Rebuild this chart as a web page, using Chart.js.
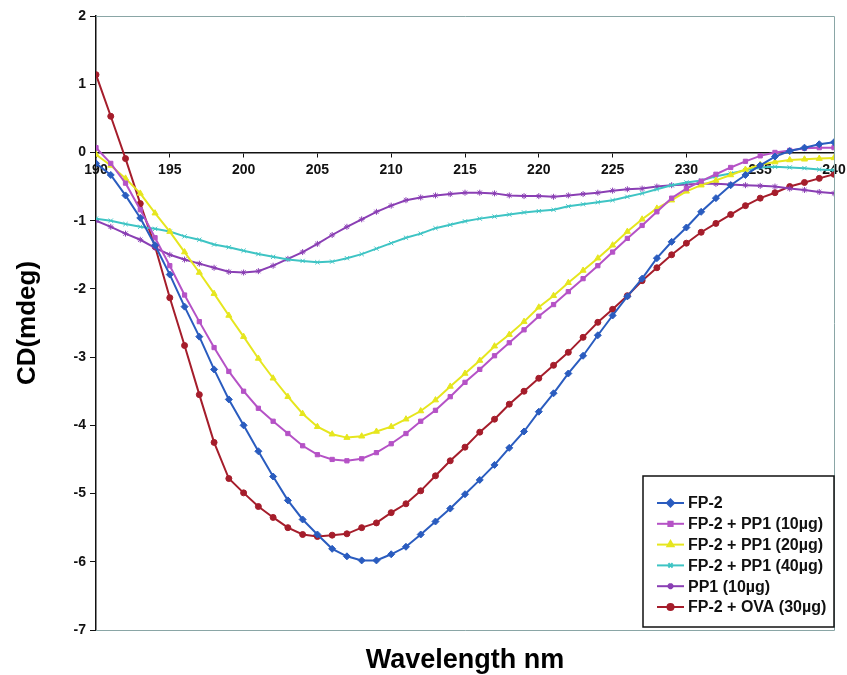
<!DOCTYPE html>
<html>
<head>
<meta charset="utf-8">
<script src="https://cdn.jsdelivr.net/npm/chart.js@4.4.1/dist/chart.umd.min.js"></script>
<style>
  html, body { margin: 0; padding: 0; background: #fff; }
  #wrap { width: 847px; height: 675px; }
</style>
</head>
<body>
<div id="wrap"><canvas id="cd-chart"></canvas></div>
<script>
// wavelengths, 190..240 nm every 1 nm
const wavelengths = [190,191,192,193,194,195,196,197,198,199,200,201,202,203,204,205,206,207,208,209,210,
  211,212,213,214,215,216,217,218,219,220,221,222,223,224,225,226,227,228,229,230,
  231,232,233,234,235,236,237,238,239,240];

const fp2 = [-0.16,-0.33,-0.63,-0.96,-1.36,-1.79,-2.26,-2.7,-3.18,-3.62,-4.0,-4.38,-4.75,-5.1,-5.38,-5.6,-5.81,-5.92,-5.98,-5.98,-5.89,
  -5.78,-5.6,-5.41,-5.22,-5.01,-4.8,-4.58,-4.33,-4.09,-3.8,-3.53,-3.24,-2.98,-2.68,-2.39,-2.11,-1.85,-1.55,-1.31,-1.1,
  -0.87,-0.67,-0.48,-0.33,-0.19,-0.06,0.02,0.07,0.12,0.15];

const fp2pp10 = [0.07,-0.16,-0.45,-0.84,-1.25,-1.66,-2.09,-2.48,-2.86,-3.21,-3.5,-3.75,-3.94,-4.12,-4.3,-4.43,-4.5,-4.52,-4.49,-4.4,-4.27,
  -4.12,-3.94,-3.78,-3.58,-3.37,-3.18,-2.98,-2.79,-2.6,-2.4,-2.23,-2.04,-1.85,-1.66,-1.46,-1.26,-1.07,-0.87,-0.67,-0.53,
  -0.42,-0.32,-0.22,-0.13,-0.05,0.0,0.03,0.06,0.07,0.07];

const fp2pp20 = [-0.03,-0.19,-0.38,-0.6,-0.89,-1.16,-1.46,-1.76,-2.07,-2.39,-2.7,-3.02,-3.31,-3.58,-3.83,-4.02,-4.13,-4.18,-4.16,-4.09,-4.02,
  -3.91,-3.79,-3.63,-3.43,-3.24,-3.05,-2.84,-2.67,-2.48,-2.27,-2.1,-1.91,-1.73,-1.55,-1.36,-1.16,-0.98,-0.82,-0.7,-0.57,
  -0.48,-0.41,-0.33,-0.25,-0.18,-0.14,-0.11,-0.1,-0.09,-0.08];

const fp2pp40 = [-0.97,-1.0,-1.05,-1.09,-1.12,-1.16,-1.23,-1.28,-1.35,-1.39,-1.44,-1.49,-1.53,-1.57,-1.59,-1.61,-1.6,-1.55,-1.49,-1.41,-1.33,
  -1.25,-1.19,-1.11,-1.06,-1.01,-0.97,-0.94,-0.91,-0.88,-0.86,-0.84,-0.79,-0.76,-0.73,-0.7,-0.65,-0.6,-0.54,-0.48,-0.44,
  -0.41,-0.35,-0.31,-0.26,-0.22,-0.21,-0.22,-0.23,-0.25,-0.26];

const pp1 = [-1.0,-1.09,-1.19,-1.28,-1.4,-1.5,-1.57,-1.63,-1.69,-1.75,-1.76,-1.74,-1.66,-1.56,-1.46,-1.34,-1.21,-1.09,-0.98,-0.87,-0.78,
  -0.7,-0.66,-0.63,-0.61,-0.59,-0.59,-0.6,-0.63,-0.64,-0.64,-0.65,-0.63,-0.61,-0.59,-0.56,-0.54,-0.53,-0.5,-0.48,-0.47,
  -0.46,-0.46,-0.47,-0.48,-0.49,-0.5,-0.53,-0.55,-0.58,-0.6];

const fp2ova = [1.14,0.53,-0.09,-0.75,-1.38,-2.13,-2.83,-3.55,-4.25,-4.78,-4.99,-5.19,-5.35,-5.5,-5.6,-5.63,-5.61,-5.59,-5.5,-5.43,-5.28,
  -5.15,-4.96,-4.74,-4.52,-4.32,-4.1,-3.91,-3.69,-3.5,-3.31,-3.12,-2.93,-2.71,-2.49,-2.3,-2.1,-1.88,-1.69,-1.5,-1.33,
  -1.17,-1.04,-0.91,-0.78,-0.67,-0.59,-0.5,-0.44,-0.38,-0.32];

const seriesNames = ["FP-2", "FP-2 + PP1 (10\u00b5g)", "FP-2 + PP1 (20\u00b5g)", "FP-2 + PP1 (40\u00b5g)", "PP1 (10\u00b5g)", "FP-2 + OVA (30\u00b5g)"];
const seriesValues = [fp2, fp2pp10, fp2pp20, fp2pp40, pp1, fp2ova];
const seriesColors = ['#2a5cbf', '#b552c6', '#e6e61e', '#3ec4c4', '#8a3fb4', '#a51d2b'];
const seriesMarkers = ['rectRot', 'rect', 'triangle', 'crossRot', 'star', 'circle'];
const markerSizes = [3.5, 3, 3.5, 3, 3, 3];

const yTicks = [2, 1, 0, -1, -2, -3, -4, -5, -6, -7];

const datasets = seriesValues.map((vals, i) => ({
    label: seriesNames[i],
    data: vals.map((v, j) => ({ x: wavelengths[j], y: v })),
    borderColor: seriesColors[i],
    backgroundColor: seriesColors[i],
    pointStyle: seriesMarkers[i],
    pointRadius: markerSizes[i],
    pointBorderWidth: 1,
    borderWidth: 2,
    tension: 0,
    fill: false
}));

// box around plot, in-plot legend and x-axis title
const framePlugin = {
    id: 'frame',
    beforeDatasetsDraw(chart) {
        const { ctx, chartArea: a } = chart;
        ctx.save();
        ctx.strokeStyle = '#8aa6a6';
        ctx.lineWidth = 1;
        ctx.beginPath();
        ctx.moveTo(a.left, a.top + 0.5);
        ctx.lineTo(a.right + 0.5, a.top + 0.5);
        ctx.lineTo(a.right + 0.5, a.bottom + 0.5);
        ctx.lineTo(a.left, a.bottom + 0.5);
        ctx.stroke();
        ctx.restore();
    },
    afterDraw(chart) {
        const { ctx, chartArea: a } = chart;
        ctx.save();
        // legend
        const bx = 643, by = 476, bw = a.right - 643, bh = 151;
        ctx.fillStyle = '#fff';
        ctx.fillRect(bx, by, bw, bh);
        ctx.strokeStyle = '#111';
        ctx.lineWidth = 1.5;
        ctx.strokeRect(bx, by, bw, bh);
        ctx.font = 'bold 16px "Liberation Sans", Arial, sans-serif';
        ctx.textBaseline = 'middle';
        chart.data.datasets.forEach((ds, i) => {
            const y = 503 + i * 20.8;
            ctx.strokeStyle = ds.borderColor;
            ctx.lineWidth = 2;
            ctx.beginPath();
            ctx.moveTo(657, y);
            ctx.lineTo(684, y);
            ctx.stroke();
            Chart.helpers.drawPoint(ctx, {
                pointStyle: ds.pointStyle, radius: ds.pointRadius, borderWidth: 1, rotation: 0
            }, 670.5, y);
            ctx.fillStyle = ds.borderColor;
            ctx.fill();
            ctx.fillStyle = '#111';
            ctx.fillText(ds.label, 688, y + 1);
        });
        // x title
        ctx.font = 'bold 27px "Liberation Sans", Arial, sans-serif';
        ctx.textAlign = 'center';
        ctx.fillStyle = '#000';
        ctx.fillText('Wavelength nm', (a.left + a.right) / 2, 661);
        ctx.restore();
    }
};

const cdCanvas = document.getElementById('cd-chart');

let cdChart = new Chart(cdCanvas, {
    type: 'line',
    data: { datasets: datasets },
    options: {
        responsive: true,
        maintainAspectRatio: false,
        animation: { duration: 0 },
        layout: { padding: { top: 16, right: 13, bottom: 45, left: 0 } },
        plugins: {
            legend: { display: false },
            tooltip: { enabled: false }
        },
        scales: {
            x: {
                type: 'linear',
                position: { y: 0 },
                min: 190,
                max: 240,
                afterFit(axis) { axis.paddingLeft = 0; axis.paddingRight = 0; },
                ticks: {
                    stepSize: 5,
                    color: '#111',
                    padding: 5,
                    font: { family: '"Liberation Sans", Arial, sans-serif', size: 14, weight: 'bold' }
                },
                grid: { drawOnChartArea: false, drawTicks: true, tickLength: 4, color: '#111' },
                border: { color: '#111', width: 1.5 }
            },
            y: {
                min: -7,
                max: 2,
                afterFit(axis) { axis.width = 96; },
                afterBuildTicks(axis) { axis.ticks = yTicks.map(v => ({ value: v })); },
                ticks: {
                    color: '#111',
                    padding: 4,
                    font: { family: '"Liberation Sans", Arial, sans-serif', size: 14, weight: 'bold' }
                },
                grid: { drawOnChartArea: false, drawTicks: true, tickLength: 6, color: '#111' },
                border: { color: '#111', width: 1.5 },
                title: {
                    display: true,
                    text: 'CD(mdeg)',
                    color: '#000',
                    padding: { top: 12, bottom: 0 },
                    font: { family: '"Liberation Sans", Arial, sans-serif', size: 26, weight: 'bold' }
                }
            }
        }
    },
    plugins: [framePlugin]
});
</script>
</body>
</html>
